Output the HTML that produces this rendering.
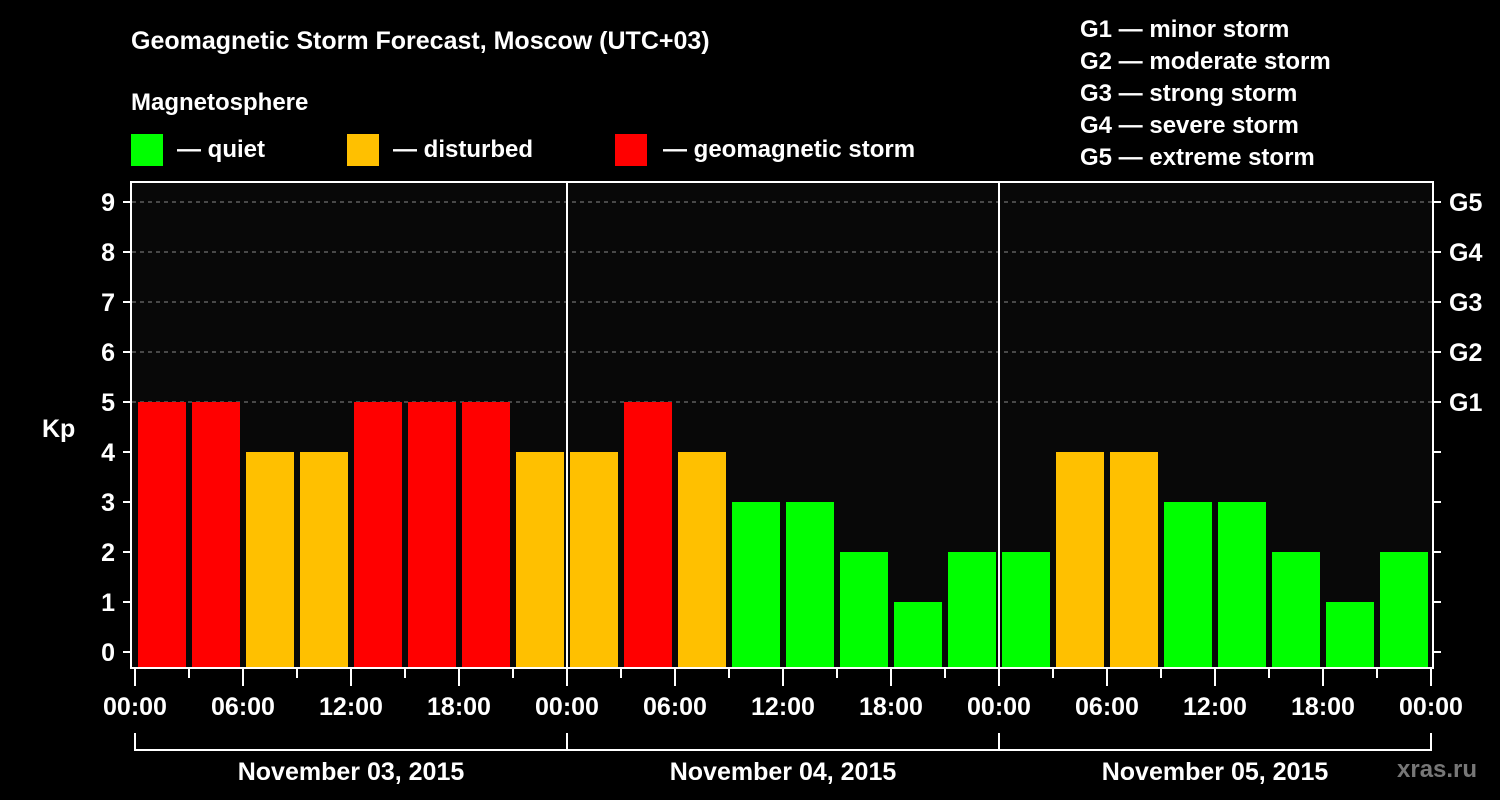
<!DOCTYPE html>
<html><head><meta charset="utf-8"><style>
body{margin:0;background:#000;width:1500px;height:800px;overflow:hidden}
svg{display:block;font-family:"Liberation Sans",sans-serif;font-weight:bold;fill:#fff}
</style></head><body>
<svg id="chart" width="1500" height="800">
<text x="131" y="49" font-size="25">Geomagnetic Storm Forecast, Moscow (UTC+03)</text>
<text x="131" y="110" font-size="24">Magnetosphere</text>
<g><rect x="131" y="134" width="32" height="32" fill="#00ff00"/><text x="177" y="157" font-size="24">— quiet</text></g>
<g><rect x="347" y="134" width="32" height="32" fill="#ffc000"/><text x="393" y="157" font-size="24">— disturbed</text></g>
<g><rect x="615" y="134" width="32" height="32" fill="#ff0000"/><text x="663" y="157" font-size="24">— geomagnetic storm</text></g>
<g font-size="24">
<text x="1080" y="37">G1 — minor storm</text>
<text x="1080" y="69">G2 — moderate storm</text>
<text x="1080" y="101">G3 — strong storm</text>
<text x="1080" y="133">G4 — severe storm</text>
<text x="1080" y="165">G5 — extreme storm</text>
</g>
<rect x="131" y="182" width="1302" height="486" fill="#080808" stroke="#fff" stroke-width="2"/>
<g id="grid"></g><g id="bars"></g><g id="axes"></g>
<text x="42" y="437" font-size="25">Kp</text>
<text x="1397" y="777" font-size="24" fill="#777" style="fill:#777">xras.ru</text>
</svg>
<script>
const values=[5,5,4,4,5,5,5,4, 4,5,4,3,3,2,1,2, 2,4,4,3,3,2,1,2];
const dayLabels=["November 03, 2015","November 04, 2015","November 05, 2015"];
const hourLabels=["00:00","06:00","12:00","18:00"];
const yTicks=[0,1,2,3,4,5,6,7,8,9];
const gLabels=["G1","G2","G3","G4","G5"];
const NS="http://www.w3.org/2000/svg";
const x0=135,slot=54,y=v=>652-50*v,bottom=667;
function mk(t,a,p){const e=document.createElementNS(NS,t);for(const k in a)e.setAttribute(k,a[k]);p.appendChild(e);return e;}
const color=v=>v>=5?"#ff0000":v>=4?"#ffc000":"#00ff00";
const grid=document.getElementById('grid'),bars=document.getElementById('bars'),axes=document.getElementById('axes');
[5,6,7,8,9].forEach(v=>{const l=mk('line',{x1:132,x2:1432,y1:y(v),y2:y(v),stroke:'#888','stroke-dasharray':'4,4'},grid);

});
values.forEach((v,i)=>{const r=mk('rect',{x:x0+i*slot+3,y:y(v),width:48,height:bottom-y(v),fill:color(v)},bars);

});
[1,2].forEach(d=>{const l=mk('line',{x1:x0+d*432,x2:x0+d*432,y1:182,y2:668,stroke:'#fff','stroke-width':2},axes);

});
yTicks.forEach(v=>{mk('line',{x1:123,x2:131,y1:y(v),y2:y(v),stroke:'#fff','stroke-width':2},axes);
mk('line',{x1:1433,x2:1441,y1:y(v),y2:y(v),stroke:'#fff','stroke-width':2},axes);
const t=mk('text',{x:115,y:y(v)+9,'font-size':25,'text-anchor':'end'},axes);t.textContent=v;

});
gLabels.forEach((g,i)=>{const t=mk('text',{x:1449,y:y(5+i)+9,'font-size':25},axes);t.textContent=g;

});
for(let i=0;i<=24;i++){const x=x0+i*slot;mk('line',{x1:x,x2:x,y1:669,y2:i%2?678:686,stroke:'#fff','stroke-width':2},axes);
if(i%2==0){const t=mk('text',{x:x,y:715,'font-size':25,'text-anchor':'middle'},axes);t.textContent=hourLabels[(i/2)%4];

}}
mk('line',{x1:x0,x2:x0+3*432,y1:750,y2:750,stroke:'#fff','stroke-width':2},axes);
for(let d=0;d<=3;d++){mk('line',{x1:x0+d*432,x2:x0+d*432,y1:733,y2:751,stroke:'#fff','stroke-width':2},axes);}
dayLabels.forEach((s,d)=>{const t=mk('text',{x:x0+d*432+216,y:780,'font-size':25,'text-anchor':'middle'},axes);t.textContent=s;

});
</script>
</body></html>
